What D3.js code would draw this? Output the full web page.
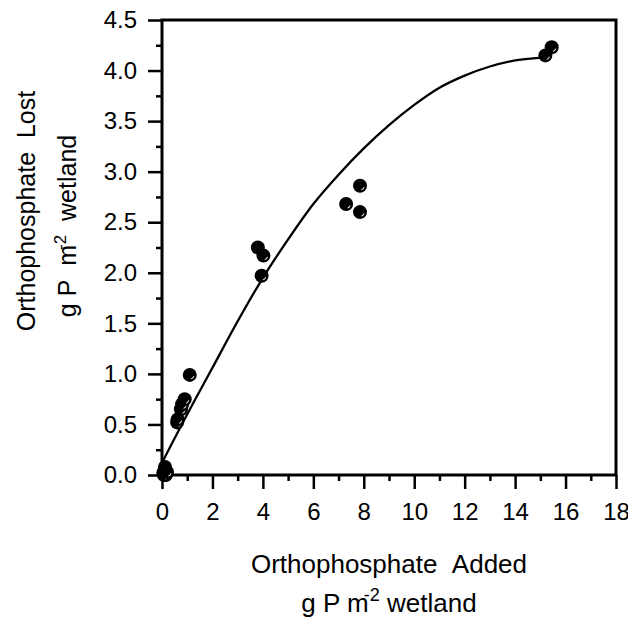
<!DOCTYPE html>
<html>
<head>
<meta charset="utf-8">
<script src="https://cdn.jsdelivr.net/npm/d3@7"></script>
<style>
  body { margin: 0; background: #fff; }
  text { font-family: "Liberation Sans", Arial, sans-serif; fill: #000; }
</style>
</head>
<body>
<script>
// size of the page
var width = 628;
var height = 620;

// measured points (orthophosphate added vs lost)
var addedX = [0.05, 0.1, 0.12, 0.15, 0.08, 0.2, 0.6, 0.62, 0.75, 0.8, 0.9, 1.1,
              3.8, 4.02, 3.95, 7.3, 7.85, 7.85, 15.2, 15.45];
var lostY = [0.02, 0.05, 0.08, 0.0, 0.0, 0.03, 0.52, 0.55, 0.65, 0.7, 0.75, 0.99,
             2.25, 2.17, 1.97, 2.68, 2.86, 2.6, 4.15, 4.23];

// fitted curve
var fitX = [0, 1, 2, 3, 4, 5, 6, 7, 8, 9, 10, 11, 12, 13, 14, 15.2];
var fitY = [0.12, 0.6, 1.06, 1.52, 1.95, 2.33, 2.68, 2.97, 3.23, 3.46, 3.66, 3.83, 3.95, 4.04, 4.1, 4.13];

var xTicks = [0, 2, 4, 6, 8, 10, 12, 14, 16, 18];
var yTicks = [0, 0.5, 1, 1.5, 2, 2.5, 3, 3.5, 4, 4.5];

var svg = d3.select('body').append('svg').attr('width', width).attr('height', height);

var x = d3.scaleLinear().domain([0, 18]).range([162, 616]);
var y = d3.scaleLinear().domain([0, 4.5]).range([475, 20]);

// minor ticks
var xMinor = d3.range(1, 18, 2);
var yMinor = d3.range(0.25, 4.5, 0.5);

svg.append('g')
    .attr('transform', 'translate(0,475)')
    .call(d3.axisBottom(x).tickValues(xMinor).tickSize(6).tickFormat(''))
    .call(styleAxis);

svg.append('g')
    .attr('transform', 'translate(162,0)')
    .call(d3.axisLeft(y).tickValues(yMinor).tickSize(6).tickFormat(''))
    .call(styleAxis);

svg.append('g')
    .attr('transform', 'translate(0,475)')
    .call(d3.axisBottom(x).tickValues(xTicks).tickSize(14).tickPadding(14).tickFormat(d3.format('d')))
    .call(styleAxis);

svg.append('g')
    .attr('transform', 'translate(162,0)')
    .call(d3.axisLeft(y).tickValues(yTicks).tickSize(14).tickPadding(11).tickFormat(d3.format('.1f')))
    .call(styleAxis);

function styleAxis(g){
  g.select('.domain').remove();
  g.selectAll('line').attr('stroke', '#000').attr('stroke-width', 2.5);
  g.selectAll('text').style('font-size', '24px').attr('fill', '#000');
}

// the frame
svg.append('rect')
    .attr('x', x(0)).attr('y', y(4.5))
    .attr('width', x(18) - x(0)).attr('height', y(0) - y(4.5))
    .attr('fill', 'none').attr('stroke', '#000').attr('stroke-width', 3);

// fitted line
var fit = fitX.map(function(d, i){ return [d, fitY[i]]; });
svg.append('path')
    .datum(fit)
    .attr('fill', 'none')
    .attr('stroke', '#000')
    .attr('stroke-width', 2.3)
    .attr('d', d3.line()
        .x(function(d){ return x(d[0]); })
        .y(function(d){ return y(d[1]); })
        .curve(d3.curveMonotoneX));

// points
var pts = addedX.map(function(d, i){ return [d, lostY[i]]; });
var dot = svg.append('g').selectAll('g')
    .data(pts)
    .enter()
    .append('g')
    .attr('transform', function(d){ return 'translate(' + x(d[0]) + ',' + y(d[1]) + ')'; });

dot.append('circle').attr('r', 7).attr('fill', '#000');
dot.append('path')
    .attr('fill', '#fff')
    .attr('d', d3.arc().innerRadius(3.9).outerRadius(4.7).startAngle(Math.PI * 0.6).endAngle(Math.PI * 0.9));

// x title
var xt = svg.append('text')
    .attr('text-anchor', 'middle')
    .style('font-size', '26px');
xt.append('tspan').attr('x', 389).attr('y', 573).text('Orthophosphate\u00a0\u00a0Added');
xt.append('tspan').attr('x', 389).attr('y', 612).text('g P m');
xt.append('tspan').attr('dx', -5).attr('dy', -11).style('font-size', '18px').text('-2');
xt.append('tspan').attr('dy', 11).text('\u00a0wetland');

// y title
var yt = svg.append('g').attr('transform', 'rotate(-90)');
yt.append('text')
    .attr('text-anchor', 'middle')
    .attr('x', -211).attr('y', 35)
    .style('font-size', '25px')
    .text('Orthophosphate\u00a0\u00a0Lost');
var yt2 = yt.append('text')
    .attr('text-anchor', 'middle')
    .attr('x', -226).attr('y', 76)
    .style('font-size', '25px');
yt2.append('tspan').text('g P\u00a0\u00a0m');
yt2.append('tspan').attr('dx', -5).attr('dy', -10).style('font-size', '17px').text('-2');
yt2.append('tspan').attr('dy', 10).text('\u00a0\u00a0wetland');
</script>
</body>
</html>
